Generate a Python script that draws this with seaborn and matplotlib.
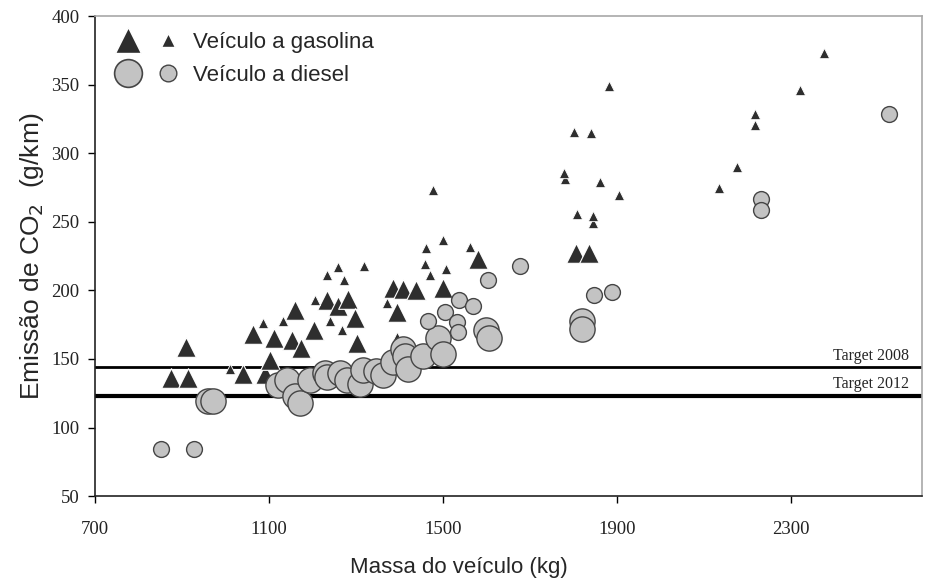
import matplotlib
matplotlib.use("Agg")
import matplotlib.pyplot as plt
from matplotlib.lines import Line2D
from matplotlib.legend_handler import HandlerTuple
import seaborn as sns

# gasolina - marcadores grandes
gas_big_mass = [909, 875, 915, 1041, 1064, 1091, 1103, 1112, 1153, 1160, 1174, 1204,
                1234, 1259, 1282, 1298, 1303, 1386, 1409, 1439, 1501, 1395, 1581, 1805, 1835]
gas_big_co2 = [159, 136, 136, 139, 168, 139, 149, 165, 164, 186, 158, 171,
               193, 189, 194, 180, 162, 202, 201, 200, 202, 184, 223, 227, 227]

# gasolina - marcadores pequenos
gas_small_mass = [1780, 1844, 2216, 1010, 1087, 1133, 1206, 1234, 1241, 1259, 1269, 1273,
                  1319, 1372, 1395, 1459, 1471, 1478, 1460, 1501, 1508, 1561, 1779, 1862,
                  1904, 1809, 1844, 1881, 1800, 1841, 2376, 2321, 2217, 2175, 2134]
gas_small_co2 = [281, 249, 321, 143, 176, 178, 193, 211, 178, 217, 171, 208,
                 218, 191, 166, 219, 211, 273, 231, 237, 216, 232, 286, 279,
                 270, 256, 254, 349, 316, 315, 373, 346, 329, 290, 275]

# diesel - marcadores grandes
dsl_big_mass = [960, 972, 1121, 1142, 1160, 1172, 1195, 1229, 1234, 1264, 1280, 1310,
                1317, 1345, 1363, 1386, 1409, 1413, 1420, 1455, 1489, 1501, 1598, 1606,
                1819, 1819]
dsl_big_co2 = [119, 119, 131, 135, 123, 118, 135, 140, 137, 140, 135, 132,
               142, 141, 138, 148, 157, 152, 143, 152, 165, 154, 171, 165,
               178, 172]

# diesel - marcadores pequenos
dsl_small_mass = [852, 928, 1466, 1505, 1537, 1568, 1533, 1535, 1604, 1676, 1846, 1888,
                  2231, 2231, 2525]
dsl_small_co2 = [84, 84, 178, 184, 193, 189, 177, 170, 208, 218, 197, 199,
                 267, 259, 329]

target_2008 = 144
target_2012 = 123
x_ticks = [700, 1100, 1500, 1900, 2300]
y_ticks = [50, 100, 150, 200, 250, 300, 350, 400]

gas_color = "#2e2e2e"
dsl_color = "#c3c3c3"
dsl_edge = "#454545"

sns.set_theme(style="white")
plt.rcParams['font.family'] = ['Liberation Sans', 'DejaVu Sans']

fig, ax = plt.subplots(figsize=(9.3, 5.87), dpi=100)
fig.subplots_adjust(left=0.102, right=0.991, bottom=0.155, top=0.972)

ax.axhline(target_2008, color="black", lw=2.0, zorder=1)
ax.axhline(target_2012, color="black", lw=3.0, zorder=1)

sns.scatterplot(x=gas_big_mass, y=gas_big_co2, marker="^", s=200, color=gas_color,
                edgecolor="white", linewidth=0.8, ax=ax, zorder=2)
sns.scatterplot(x=gas_small_mass, y=gas_small_co2, marker="^", s=55, color=gas_color,
                edgecolor="white", linewidth=0.6, ax=ax, zorder=2)
sns.scatterplot(x=dsl_big_mass, y=dsl_big_co2, marker="o", s=330, color=dsl_color,
                edgecolor=dsl_edge, linewidth=1.0, ax=ax, zorder=3)
sns.scatterplot(x=dsl_small_mass, y=dsl_small_co2, marker="o", s=130, color=dsl_color,
                edgecolor=dsl_edge, linewidth=1.0, ax=ax, zorder=3)

yx = ax.get_yaxis_transform()
ax.text(0.985, target_2008 + 5.5, "Target 2008", transform=yx, ha="right", va="baseline",
        fontsize=11.5, family="Liberation Serif")
ax.text(0.985, target_2012 + 5.5, "Target 2012", transform=yx, ha="right", va="baseline",
        fontsize=11.5, family="Liberation Serif")

ax.set_xlim(700, 2600)
ax.set_ylim(50, 400)
ax.set_xticks(x_ticks)
ax.set_yticks(y_ticks)
ax.tick_params(axis="both", direction="out", length=5, width=1, color="black",
               bottom=True, left=True, labelsize=13.5, labelfontfamily="Liberation Serif",
               labelcolor="#222222")
ax.tick_params(axis="x", pad=13)
ax.tick_params(axis="y", pad=6)

for side in ["left", "bottom"]:
    ax.spines[side].set_color("#222222")
    ax.spines[side].set_linewidth(1.2)
for side in ["top", "right"]:
    ax.spines[side].set_color("#a8a8a8")
    ax.spines[side].set_linewidth(1.2)

ax.set_xlabel("Massa do veículo (kg)", fontsize=16, labelpad=14, x=0.44)
ax.set_ylabel("Emissão de CO$_2$  (g/km)", fontsize=19, labelpad=4)

h_gas = (Line2D([], [], marker="^", ls="", ms=19, color=gas_color, mec="white"),
         Line2D([], [], marker="^", ls="", ms=10, color=gas_color, mec="white"))
h_dsl = (Line2D([], [], marker="o", ls="", ms=20, color=dsl_color, mec=dsl_edge, mew=1.2),
         Line2D([], [], marker="o", ls="", ms=12, color=dsl_color, mec=dsl_edge, mew=1.0))
ax.legend([h_gas, h_dsl], ["Veículo a gasolina", "Veículo a diesel"],
          handler_map={tuple: HandlerTuple(ndivide=None, pad=0.6)},
          loc="upper left", bbox_to_anchor=(0.005, 1.0), frameon=False,
          fontsize=16, handlelength=3.0, handletextpad=0.55, labelspacing=0.55,
          borderaxespad=0.3)

fig.savefig("out.png", dpi=100)
